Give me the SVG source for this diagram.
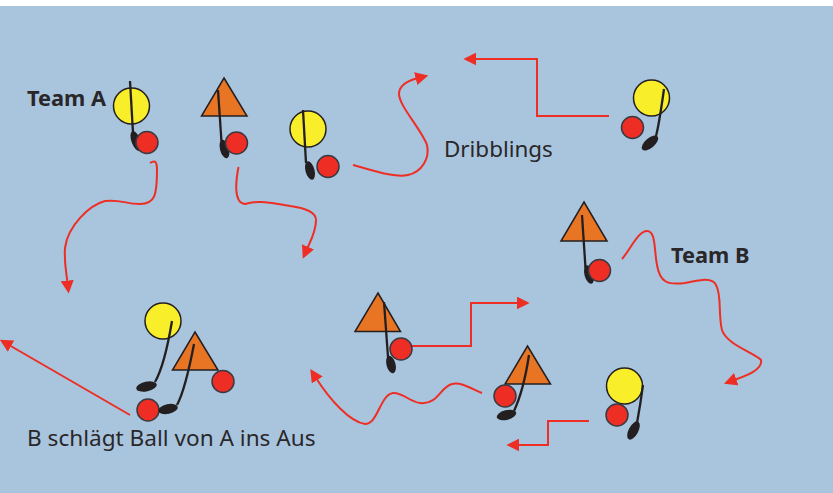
<svg xmlns="http://www.w3.org/2000/svg" width="833" height="493" viewBox="0 0 833 493">
<style>
.p{fill:#f9ee2a;stroke:#231f20;stroke-width:1.5}
.t{fill:#e87524;stroke:#231f20;stroke-width:1.5;stroke-linejoin:miter}
.b{fill:#ee2e24;stroke:#3a3a42;stroke-width:1.5}
.s{fill:none;stroke:#231f20;stroke-width:2.3;stroke-linecap:butt}
.h{fill:#231f20}
.c{fill:none;stroke:#ee2e24;stroke-width:2;marker-end:url(#a)}
text{font-family:"Noto Sans","Open Sans","Liberation Sans",sans-serif;fill:#29272a;font-size:22.4px}
.bd{font-weight:700;font-size:21.8px}
.cap{font-size:22.6px}
</style>
<defs>
<marker id="a" markerUnits="userSpaceOnUse" markerWidth="13" markerHeight="13" viewBox="0 0 11 11" refX="2" refY="5.5" orient="auto">
<path d="M0 0L11 5.500L0 11z" fill="#ee2e24"/>
</marker>
</defs>
<rect x="0" y="0" width="833" height="493" fill="#fff"/>
<rect x="0" y="6" width="833" height="487" fill="#a9c4dd"/>
<g id="connectors">
<path class="c" d="M150 163C155 160 157 161 157 170C157 195 155 204 140 204C125 204 120 199 105 201C90 205 68 225 65 248C64 262 66 270 67.500 283"/>
<path class="c" d="M238.500 167C236 180 233 203 245 204C255 201 265 201 290 206C305 208 316 212 316 220C316 232 310 242 307 249"/>
<path class="c" d="M353 165C375 171 395 178 408 175C422 172 430 158 427 145C422 130 398 105 399 93C400 84 410 80 418 78"/>
<path class="c" d="M609 116H537V59H474"/>
<path class="c" d="M622 259C630 250 638 231 647 231C656 231 654 250 657 265C660 283 668 285 685 283C700 280 712 277 716 285C722 295 718 315 722 330C727 345 755 353 761 360C763 370 745 376 734 380"/>
<path class="c" d="M411 346H471V303H519"/>
<path class="c" d="M482 393C470 388 462 382 452 384C440 387 438 405 420 403C410 402 402 392 393 393C380 395 378 424 365 424C350 422 330 400 316 378"/>
<path class="c" d="M130 415L9 345"/>
<path class="c" d="M589 421H548V445H517"/>
</g>
<g id="team-a-label"><text class="bd" x="27" y="106">Team A</text></g>
<g id="dribblings-label"><text x="444" y="157">Dribblings</text></g>
<g id="team-b-label"><text class="bd" x="671" y="263">Team B</text></g>
<g id="caption"><text class="cap" x="27" y="446">B schlägt Ball von A ins Aus</text></g>
<g id="a1">
<circle class="p" cx="131.500" cy="106" r="18"/>
<path class="s" d="M130 81L133 133"/>
<ellipse class="h" cx="136" cy="141" rx="4.500" ry="10.500" transform="rotate(-20 136 141)"/>
<circle class="b" cx="147" cy="142.500" r="11"/>
</g>
<g id="b1">
<path class="t" d="M224 78L247 116H201.500z"/>
<path class="s" d="M218 90L221.500 142"/>
<ellipse class="h" cx="224.500" cy="149" rx="4.500" ry="9.500" transform="rotate(-15 224.500 149)"/>
<circle class="b" cx="236.500" cy="143" r="11"/>
</g>
<g id="a2">
<circle class="p" cx="308" cy="129" r="18"/>
<path class="s" d="M303 110L306 163"/>
<ellipse class="h" cx="310" cy="170.500" rx="4.500" ry="9.500" transform="rotate(-15 310 170.500)"/>
<circle class="b" cx="328" cy="166.500" r="11"/>
</g>
<g id="a3">
<circle class="p" cx="651.500" cy="98" r="18"/>
<path class="s" d="M664 89C661 110 659 125 656 136"/>
<ellipse class="h" cx="650" cy="143" rx="4.800" ry="10" transform="rotate(50 650 143)"/>
<circle class="b" cx="632.500" cy="127.500" r="11"/>
</g>
<g id="b2">
<path class="t" d="M584 202L607 241H561z"/>
<path class="s" d="M582 215L585.500 268"/>
<ellipse class="h" cx="589" cy="274.500" rx="4.500" ry="9.500" transform="rotate(-15 589 274.500)"/>
<circle class="b" cx="599.500" cy="270.500" r="11"/>
</g>
<g id="b3">
<path class="t" d="M378 293L400.500 331.500H355z"/>
<path class="s" d="M384 302L388 357"/>
<ellipse class="h" cx="391" cy="364.500" rx="4.500" ry="9" transform="rotate(-15 391 364.500)"/>
<circle class="b" cx="401" cy="349" r="11"/>
</g>
<g id="a4">
<circle class="p" cx="163" cy="321" r="18"/>
<path class="s" d="M172 321C168 345 163 368 155 382"/>
<ellipse class="h" cx="146.500" cy="386.500" rx="10.500" ry="4.800" transform="rotate(-12 146.500 386.500)"/>
<circle class="b" cx="148" cy="410" r="11"/>
</g>
<g id="b4">
<path class="t" d="M195 332L218 370H172.500z"/>
<path class="s" d="M194 344C190 365 185 390 177 405"/>
<ellipse class="h" cx="168" cy="409" rx="10" ry="4.800" transform="rotate(-12 168 409)"/>
<circle class="b" cx="223" cy="381.500" r="11"/>
</g>
<g id="b5">
<path class="t" d="M527.500 346L550.500 384H505z"/>
<path class="s" d="M529 355C526 375 520 398 514 411"/>
<ellipse class="h" cx="506.500" cy="415" rx="10" ry="4.800" transform="rotate(-15 506.500 415)"/>
<circle class="b" cx="505" cy="396" r="11"/>
</g>
<g id="a5">
<circle class="p" cx="624.500" cy="386" r="18"/>
<path class="s" d="M643 385C641 400 639 412 637 423"/>
<ellipse class="h" cx="633.500" cy="430.500" rx="4.800" ry="10" transform="rotate(28 633.500 430.500)"/>
<circle class="b" cx="617" cy="415" r="11"/>
</g>
</svg>
